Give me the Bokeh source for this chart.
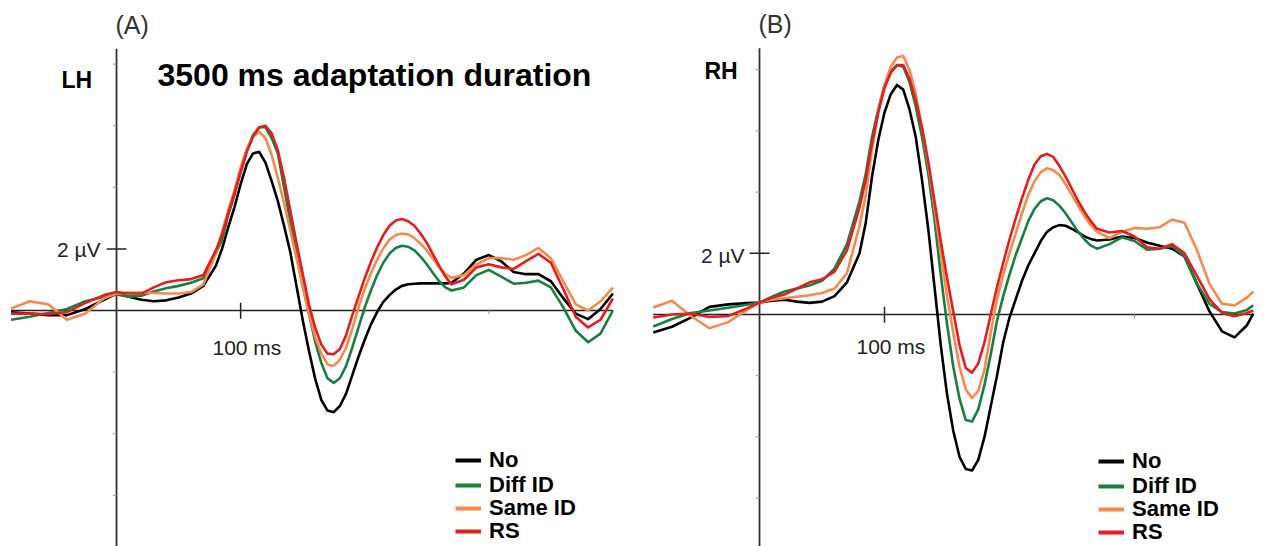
from bokeh.plotting import figure
from bokeh.models import Range1d, Label, Legend, LegendItem
from bokeh.layouts import row
from bokeh.embed import file_html
from bokeh.resources import INLINE

FONT = "Liberation Sans"

# ---------------- data: panel A (LH) ----------------
T_A = [-85, -70, -55, -40, -25, -10, 0, 10, 20, 30, 40, 50, 60, 70, 80, 85, 90, 95, 100, 105,
       110, 115, 120, 125, 130, 135, 140, 145, 150, 155, 160, 165, 170, 175, 180, 185, 190, 195,
       200, 205, 210, 215, 220, 225, 230, 235, 240, 245, 250, 255, 260, 265, 270,
       280, 290, 300, 310, 320, 330, 340, 350, 360, 370, 380, 390, 400]
A_NO = [-0.06, -0.1, -0.15, -0.15, 0.05, 0.35, 0.55, 0.45, 0.35, 0.3, 0.33, 0.42, 0.55, 0.8, 1.45,
        2.0, 2.7, 3.35, 4.1, 4.75, 5.1, 5.15, 4.8, 4.2, 3.55, 2.75, 1.9, 0.8, -0.3, -1.3, -2.2, -2.9,
        -3.25, -3.3, -3.1, -2.7, -2.1, -1.5,
        -0.95, -0.45, -0.05, 0.28, 0.5, 0.68, 0.8, 0.85, 0.87, 0.88, 0.88, 0.88, 0.88, 0.88, 0.9,
        1.2, 1.65, 1.8, 1.6, 1.25, 1.18, 1.18, 0.95, 0.4, -0.1, -0.28, 0.05, 0.55]
A_DIFF = [-0.3, -0.2, -0.08, 0.05, 0.3, 0.45, 0.52, 0.45, 0.48, 0.62, 0.72, 0.8, 0.9, 1.05, 1.85,
          2.3, 3.1, 3.75, 4.5, 5.2, 5.7, 5.95, 5.95, 5.6, 5.1, 4.0, 2.9, 1.8, 0.8, -0.1, -1.0, -1.7,
          -2.2, -2.35, -2.2, -1.8, -1.2, -0.55,
          0.1, 0.65, 1.15, 1.55, 1.85, 2.03, 2.1, 2.07, 1.95, 1.75, 1.5, 1.22, 0.95, 0.75, 0.65,
          0.75, 1.15, 1.32, 1.1, 0.87, 0.9, 0.97, 0.75, 0.1, -0.65, -1.03, -0.75, 0.0]
A_SAME = [0.06, 0.3, 0.2, -0.3, -0.1, 0.4, 0.55, 0.58, 0.58, 0.57, 0.55, 0.55, 0.6, 0.85, 1.85,
          2.55, 3.25, 3.9, 4.65, 5.25, 5.65, 5.8, 5.6, 5.05, 4.3, 3.5, 2.6, 1.7, 0.8, -0.1, -0.85,
          -1.4, -1.75, -1.8, -1.6, -1.2, -0.6, 0.1,
          0.7, 1.2, 1.65, 2.02, 2.3, 2.45, 2.5, 2.47, 2.35, 2.17, 1.95, 1.68, 1.4, 1.18, 1.06,
          1.15, 1.5, 1.7, 1.7, 1.65, 1.8, 2.03, 1.7, 0.95, 0.2, 0.0, 0.3, 0.74]
A_RS = [-0.1, -0.1, -0.12, -0.05, 0.25, 0.5, 0.6, 0.55, 0.55, 0.75, 0.92, 0.98, 1.02, 1.15, 1.95,
        2.45, 3.15, 3.8, 4.5, 5.15, 5.65, 5.95, 6.0, 5.75, 5.2, 4.3, 3.25, 2.2, 1.2, 0.2, -0.55,
        -1.1, -1.4, -1.42, -1.25, -0.8, -0.15, 0.45,
        1.05, 1.58, 2.05, 2.45, 2.75, 2.92, 2.97, 2.9, 2.75, 2.5, 2.2, 1.82, 1.45, 1.1, 0.85,
        1.0, 1.4, 1.5, 1.4, 1.35, 1.6, 1.84, 1.55, 0.7, -0.2, -0.55, -0.3, 0.39]

# ---------------- data: panel B (RH) ----------------
T_B = [-85, -70, -55, -40, -25, -10, 0, 10, 20, 30, 40, 50, 60, 70, 80, 85, 90, 95, 100, 105,
       110, 115, 120, 125, 130, 135, 140, 145, 150, 155, 160, 165, 170, 175, 180, 185, 190, 195,
       200, 205, 210, 215, 220, 225, 230, 235, 240, 245, 250, 255, 260, 265, 270,
       280, 290, 300, 310, 320, 330, 340, 350, 360, 370, 380, 390, 395]
B_NO = [-0.59, -0.4, -0.1, 0.25, 0.33, 0.37, 0.39, 0.45, 0.48, 0.42, 0.38, 0.42, 0.6, 1.05, 2.0,
        3.0, 4.5, 5.7, 6.6, 7.2, 7.5, 7.35, 6.7, 5.8, 4.4, 2.8, 0.9, -1.0, -2.6, -3.8, -4.65, -5.05,
        -5.1, -4.75, -4.0, -3.0, -2.0, -0.9,
        -0.1, 0.5, 1.1, 1.6, 2.0, 2.4, 2.7, 2.85, 2.92, 2.9, 2.8, 2.68, 2.55, 2.47, 2.42,
        2.45, 2.55, 2.5, 2.35, 2.25, 2.15, 1.9, 1.0, 0.1, -0.55, -0.75, -0.35, 0.03]
B_DIFF = [-0.39, -0.15, 0.05, 0.13, 0.22, 0.32, 0.39, 0.58, 0.75, 0.85, 0.95, 1.1, 1.5, 2.3, 3.7,
          4.6, 5.8, 6.7, 7.5, 7.95, 8.15, 8.1, 7.6, 6.8, 5.8, 4.6, 3.1, 1.3, -0.3, -1.7, -2.75,
          -3.45, -3.5, -3.1, -2.3, -1.3, -0.2, 0.6,
          1.3, 1.95, 2.5, 3.05, 3.45, 3.7, 3.8, 3.73, 3.55, 3.3, 3.0, 2.7, 2.45, 2.25, 2.15,
          2.3, 2.52, 2.4, 2.12, 2.15, 2.24, 1.9, 1.0, 0.35, 0.08, 0.03, 0.15, 0.3]
B_SAME = [0.23, 0.45, -0.05, -0.45, -0.25, 0.15, 0.39, 0.48, 0.53, 0.58, 0.63, 0.7, 0.85, 1.35,
          2.9, 3.9, 5.4, 6.6, 7.5, 8.1, 8.4, 8.45, 8.0, 7.2, 6.1, 4.9, 3.5, 2.0, 0.6, -0.6, -1.7,
          -2.45, -2.73, -2.5, -1.8, -0.6, 0.5, 1.3,
          2.0, 2.65, 3.3, 3.9, 4.35, 4.65, 4.78, 4.72, 4.55, 4.25, 3.9, 3.55, 3.2, 2.92, 2.7,
          2.5, 2.7, 2.83, 2.8, 2.85, 3.1, 3.0, 2.1, 1.0, 0.35, 0.3, 0.55, 0.75]
B_RS = [-0.1, 0.0, 0.03, -0.08, -0.05, 0.2, 0.39, 0.55, 0.65, 0.85, 1.05, 1.15, 1.4, 2.1, 3.5,
        4.4, 5.6, 6.6, 7.4, 7.9, 8.15, 8.15, 7.7, 7.0, 6.1, 5.0, 3.7, 2.4, 1.2, 0.1, -1.0, -1.75,
        -1.9, -1.6, -0.9, 0.0, 0.9, 1.7,
        2.45, 3.15, 3.8, 4.4, 4.9, 5.17, 5.25, 5.15, 4.85, 4.5, 4.1, 3.7, 3.35, 3.05, 2.8,
        2.68, 2.73, 2.55, 2.2, 2.15, 2.3, 2.0, 1.25, 0.5, 0.05, -0.06, 0.05, 0.13]

LABELS = ["No", "Diff ID", "Same ID", "RS"]
COLORS = ["#000000", "#15803f", "#f7894a", "#e41d1d"]
MINOR_YTICKS = [-6, -4, -2, 4, 6, 8]
MAJOR_YTICK = 2
MAJOR_XTICK = 100
MINOR_XTICKS = [200, 300]

W, H = 633, 546


def lab(p, x, y, text, size, bold=False, color="#000000", align="left"):
    p.add_layout(Label(x=x, y=y, x_units="screen", y_units="screen", text=text,
                       text_align=align, text_baseline="bottom", text_font=FONT,
                       text_font_size=size, text_font_style="bold" if bold else "normal",
                       text_color=color))


def panel(T, series, xr, yr, axis_x, axis_top, letter, hemi, title, ylab_x, ylab_y,
          xlab_x, xlab_y, letter_x, letter_y, hemi_x, hemi_y, leg_x, leg_ys):
    p = figure(width=W, height=H, output_backend="svg", toolbar_location=None,
               x_range=Range1d(*xr), y_range=Range1d(*yr),
               x_axis_type=None, y_axis_type=None, min_border=0)
    p.outline_line_color = None
    p.grid.visible = False
    # axes
    p.segment(x0=[axis_x[0]], y0=[0], x1=[axis_x[1]], y1=[0], line_color="#222222", line_width=1.5)
    p.segment(x0=[0], y0=[yr[0] - 1], x1=[0], y1=[axis_top], line_color="#333333", line_width=1.8)
    p.segment(x0=[-3] * len(MINOR_YTICKS), y0=MINOR_YTICKS, x1=[0] * len(MINOR_YTICKS),
              y1=MINOR_YTICKS, line_color="#999999", line_width=1)
    p.segment(x0=[-8], y0=[MAJOR_YTICK], x1=[8], y1=[MAJOR_YTICK], line_color="#222222", line_width=1.5)
    p.segment(x0=[MAJOR_XTICK], y0=[-0.27], x1=[MAJOR_XTICK], y1=[0.25], line_color="#222222", line_width=1.5)
    p.segment(x0=MINOR_XTICKS, y0=[-0.12] * len(MINOR_XTICKS), x1=MINOR_XTICKS, y1=[0] * len(MINOR_XTICKS),
              line_color="#999999", line_width=1)
    # curves
    for ys, c in zip(series, COLORS):
        p.line(T, ys, line_color=c, line_width=2.6, line_join="round")
    # legend: one single-item legend per row, so the row spacing matches
    for name, ys, c, ly in zip(LABELS, series, COLORS, leg_ys):
        r = p.line(x=[T[0]], y=[ys[0]], line_color=c, line_width=4)
        leg = Legend(items=[LegendItem(label=name, renderers=[r])], location=(leg_x, ly),
                     orientation="vertical", border_line_alpha=0, background_fill_alpha=0,
                     padding=0, margin=0, spacing=0, glyph_width=26, glyph_height=22,
                     label_height=22, label_standoff=8, label_text_font=FONT,
                     label_text_font_style="bold", label_text_font_size="22px",
                     label_text_color="#000000")
        p.add_layout(leg)
    # texts
    lab(p, letter_x, letter_y, letter, "25px", color="#333333")
    lab(p, hemi_x, hemi_y, hemi, "23px", bold=True)
    if title:
        lab(p, 157, 453.6, title, "32px", bold=True)
    lab(p, ylab_x, ylab_y, "2 µV", "21px", color="#222222", align="right")
    lab(p, xlab_x, xlab_y, "100 ms", "21px", color="#222222")
    return p


pA = panel(T_A, [A_NO, A_DIFF, A_SAME, A_RS], (-93.5, 416.6), (-7.662, 10.065), (-85, 400), 8.5,
           "(A)", "LH", "3500 ms adaptation duration", 100, 285.8, 212, 187.8, 115, 508, 61, 454,
           455, [73, 48.5, 25, 2])
pB = panel(T_B, [B_NO, B_DIFF, B_SAME, B_RS], (-100.8, 405.6), (-7.582, 10.261), (-85, 395), 8.7,
           "(B)", "RH", None, 111, 279.8, 223, 188.8, 125, 509, 71, 462.4,
           465, [72, 47.5, 24, 1])

layout = row(pA, pB, spacing=0)
open("out.html", "w").write(file_html(layout, INLINE))
